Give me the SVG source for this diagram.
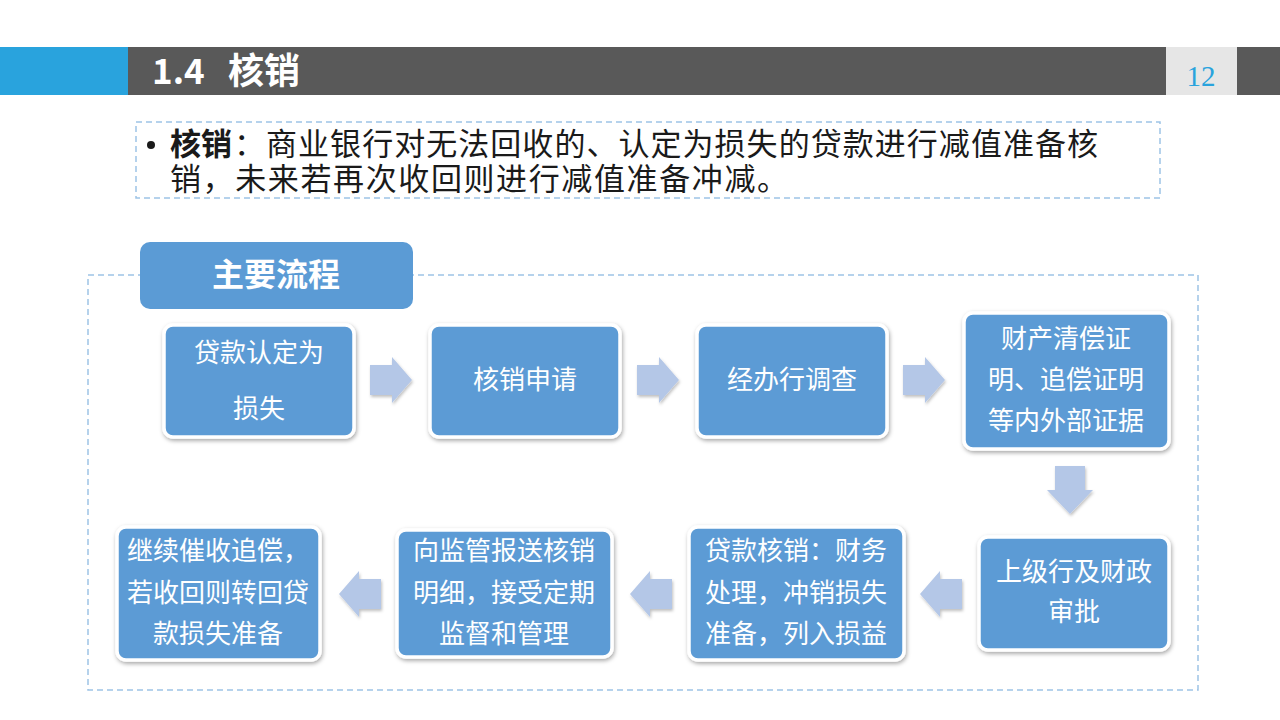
<svg xmlns="http://www.w3.org/2000/svg" width="1280" height="720" viewBox="0 0 1280 720">
<defs>
<filter id="sh" x="-10%" y="-10%" width="130%" height="130%">
<feDropShadow dx="1" dy="2" stdDeviation="2" flood-color="#000" flood-opacity="0.35"/>
</filter>
<filter id="ash" x="-20%" y="-20%" width="150%" height="150%">
<feDropShadow dx="1" dy="2" stdDeviation="1.5" flood-color="#000" flood-opacity="0.25"/>
</filter>
<path id="arR" d="M0,-15 H22 V-23 L42,0 L22,23 V15 H0 Z"/>
<path id="arD" d="M-15,0 V24 H-23 L0,48 L23,24 H15 V0 Z"/>
<path id="arL" d="M0,-15 H-22 V-23 L-42,0 L-22,23 V15 H0 Z"/>
</defs>
<style>
.node{fill:#5b9bd5;stroke:#fff;stroke-width:3.5;filter:url(#sh)}
.nt{font-family:"Noto Sans CJK SC","Noto Sans",sans-serif;font-size:26px;fill:#fff;text-anchor:middle}
.arrow{fill:#b4c7e7;filter:url(#ash)}
.dash{fill:none;stroke:#9dc3e6;stroke-width:1.5;stroke-dasharray:6 4}
.bt{font-family:"Noto Sans CJK SC",sans-serif;font-size:31px;fill:#1a1a1a}
</style>
<rect width="1280" height="720" fill="#fff"/>
<g id="header">
<rect x="0" y="47" width="128" height="48" fill="#29a3dd"/>
<rect x="128" y="47" width="1152" height="48" fill="#595959"/>
<rect x="1166" y="47" width="71" height="48" fill="#e6e6e6"/>
<text x="152" y="84" font-family="Noto Sans CJK SC,sans-serif" font-size="35" font-weight="bold" fill="#fff">1.4</text>
<text x="228" y="84" font-family="Noto Sans CJK SC,sans-serif" font-size="36" font-weight="bold" fill="#fff">核销</text>
<text x="1201" y="86" font-family="Liberation Serif,serif" font-size="29" fill="#29a3dd" text-anchor="middle">12</text>
</g>
<g id="definition">
<rect x="136" y="122" width="1024" height="76" class="dash" stroke-width="1"/>
<circle cx="151" cy="145" r="4" fill="#1a1a1a"/>
<text x="170" y="155" class="bt" font-weight="bold">核销</text>
<text x="234" y="155" class="bt" textLength="864" lengthAdjust="spacing">：商业银行对无法回收的、认定为损失的贷款进行减值准备核</text>
<text x="170" y="190" class="bt" textLength="618" lengthAdjust="spacing">销，未来若再次收回则进行减值准备冲减。</text>
</g>
<rect x="88" y="275" width="1110" height="415" class="dash"/>
<g id="tab">
<rect x="140" y="242" width="273" height="67" rx="10" fill="#5b9bd5"/>
<text x="276" y="286" font-family="Noto Sans CJK SC,sans-serif" font-size="32" font-weight="bold" fill="#fff" text-anchor="middle">主要流程</text>
</g>
<g id="n1"><rect class="node" x="164" y="325" width="190" height="112" rx="9"/>
<text class="nt" x="259" y="362">贷款认定为</text><text class="nt" x="259" y="418">损失</text></g>
<g id="n2"><rect class="node" x="430" y="325" width="190" height="112" rx="9"/>
<text class="nt" x="525" y="389">核销申请</text></g>
<g id="n3"><rect class="node" x="697" y="325" width="190" height="112" rx="9"/>
<text class="nt" x="792" y="389">经办行调查</text></g>
<g id="n4"><rect class="node" x="964" y="313" width="205" height="136" rx="9"/>
<text class="nt" x="1066" y="348">财产清偿证</text><text class="nt" x="1066" y="389">明、追偿证明</text><text class="nt" x="1066" y="430">等内外部证据</text></g>
<g id="n5"><rect class="node" x="979" y="537" width="190" height="113" rx="9"/>
<text class="nt" x="1074" y="581">上级行及财政</text><text class="nt" x="1074" y="621">审批</text></g>
<g id="n6"><rect class="node" x="689" y="527" width="215" height="133" rx="9"/>
<text class="nt" x="796" y="560">贷款核销：财务</text><text class="nt" x="796" y="602">处理，冲销损失</text><text class="nt" x="796" y="643">准备，列入损益</text></g>
<g id="n7"><rect class="node" x="397" y="530" width="215" height="127" rx="9"/>
<text class="nt" x="504" y="560">向监管报送核销</text><text class="nt" x="504" y="602">明细，接受定期</text><text class="nt" x="504" y="643">监督和管理</text></g>
<g id="n8"><rect class="node" x="117" y="527" width="203" height="133" rx="9"/>
<text class="nt" x="218" y="560">继续催收追偿，</text><text class="nt" x="218" y="602">若收回则转回贷</text><text class="nt" x="218" y="643">款损失准备</text></g>
<g id="connectors">
<use href="#arR" class="arrow" x="370" y="380"/>
<use href="#arR" class="arrow" x="637" y="380"/>
<use href="#arR" class="arrow" x="903" y="380"/>
<use href="#arD" class="arrow" x="1070" y="466"/>
<use href="#arL" class="arrow" x="962" y="594"/>
<use href="#arL" class="arrow" x="672" y="594"/>
<use href="#arL" class="arrow" x="381" y="594"/>
</g>
</svg>
